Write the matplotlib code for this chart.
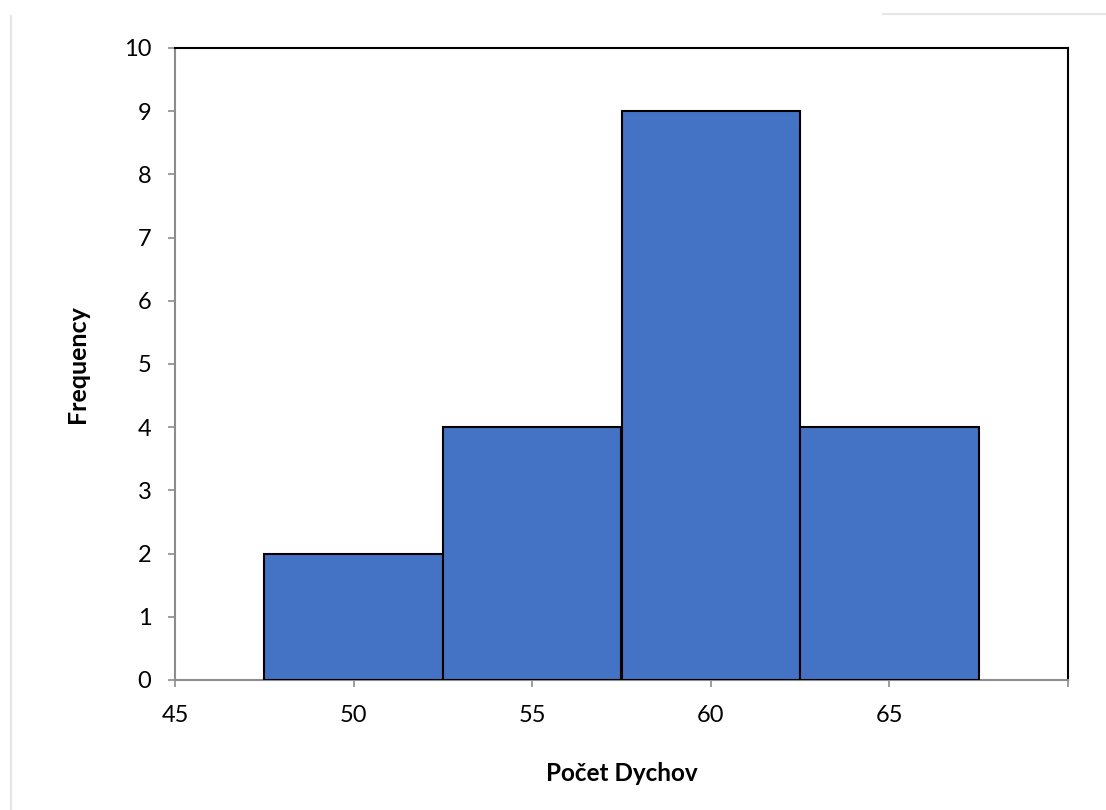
import matplotlib
matplotlib.use("Agg")
import matplotlib.pyplot as plt
from matplotlib.lines import Line2D

bin_left = [47.5, 52.5, 57.5, 62.5]
bin_width = [5, 5, 5, 5]
frequency = [2, 4, 9, 4]
x_ticks = [45, 50, 55, 60, 65, 70]
x_tick_labels = ["45", "50", "55", "60", "65", ""]
y_ticks = list(range(0, 11))

plt.rcParams['font.family'] = ['Lato', 'DejaVu Sans']

fig = plt.figure(figsize=(11.06, 8.10), dpi=100)
ax = fig.add_axes([175/1106, 1-680/810, (1068-175)/1106, (680-48)/810])

ax.bar(bin_left, frequency, width=bin_width, align='edge', color='#4472C4',
       edgecolor='black', linewidth=1.5, zorder=3)

ax.set_xlim(45, 70)
ax.set_ylim(0, 10)
ax.set_xticks(x_ticks)
ax.set_xticklabels(x_tick_labels)
ax.set_yticks(y_ticks)
ax.tick_params(axis='both', direction='out', length=5, width=1.2, color='#8c8c8c',
               labelsize=17)
ax.tick_params(axis='x', pad=13)
ax.tick_params(axis='y', pad=12)

for s in ['left', 'bottom']:
    ax.spines[s].set_color('#8c8c8c')
    ax.spines[s].set_linewidth(1.5)
for s in ['top', 'right']:
    ax.spines[s].set_color('black')
    ax.spines[s].set_linewidth(1.5)

ax.set_xlabel('Počet Dychov', fontsize=17.5, fontweight='bold', labelpad=26)
ax.set_ylabel('Frequency', fontsize=18, fontweight='bold', labelpad=25)

fig.add_artist(Line2D([11/1106, 11/1106], [0, 1-16/810], transform=fig.transFigure,
                      color='#e6e6e6', linewidth=1.5))
fig.add_artist(Line2D([883/1106, 1], [1-14/810, 1-14/810], transform=fig.transFigure,
                      color='#e6e6e6', linewidth=1.5))

fig.savefig('out.png', dpi=100)
